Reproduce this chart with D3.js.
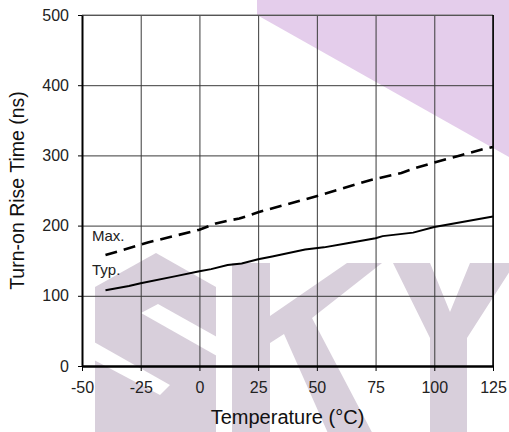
<!DOCTYPE html>
<html>
<head>
<meta charset="utf-8">
<script src="https://cdn.jsdelivr.net/npm/d3@7"></script>
<style>
  body { margin: 0; background: #fff; }
  svg { display: block; font-family: "Liberation Sans", Arial, sans-serif; }
  .grid line { stroke: #3a3a3a; stroke-width: 1; }
  .grid path { display: none; }
  .axis path, .axis line { stroke: #000; }
  .axis text { fill: #222; font-size: 16px; font-family: "Liberation Sans", Arial, sans-serif; }
</style>
</head>
<body>
<div id="chart"></div>
<script>

// data (temperature in degC, rise time in ns)
var maxTemp  = [-40, -22, 0, 7, 12, 17, 25, 51, 73, 86, 92, 100, 111, 121, 125];
var maxRise  = [158, 176, 194, 203, 207, 210, 219, 243, 265, 275, 282, 290, 300, 309, 312];
var typTemp  = [-40, -30, -25, -10, 0, 5, 12, 18, 25, 31, 45, 53, 63, 75, 78, 91, 100, 125];
var typRise  = [108, 114, 118, 128, 135, 138, 144, 146, 152, 156, 166, 169, 175, 182, 185, 190, 198, 213];
var xTicks   = [-50, -25, 0, 25, 50, 75, 100, 125];
var yTicks   = [0, 100, 200, 300, 400, 500];
var seriesLabels = ["Max.", "Typ."];

// margins
var margin = {top: 15, right: 16, bottom: 66, left: 82},
    width = 509 - margin.left - margin.right,
    height = 432 - margin.top - margin.bottom;

var root = d3.select("#chart")
  .append("svg")
    .attr("width", 509)
    .attr("height", 432);

// watermark behind the chart
var wm = root.append("g").attr("class", "watermark");
wm.append("polygon")
    .attr("points", "257,0 509,0 509,157 257,15")
    .attr("fill", "#e4cdeb");
var grey = "#d8cfdb";
// S
wm.append("polygon")
    .attr("points", "95,287 156,253 216,287 216,440 95,440")
    .attr("fill", grey);
wm.append("polygon")
    .attr("points", "158,304 217,337 217,356 141,313")
    .attr("fill", "#fff");
wm.append("polygon")
    .attr("points", "94,342 170,385 160,395 94,360")
    .attr("fill", "#fff");
// K
wm.append("polygon")
    .attr("points", "232,263 270,263 270,316 347,263 382,263 312,318 376,440 331,440 284,334 270,343 270,440 232,440")
    .attr("fill", grey);
// Y
wm.append("polygon")
    .attr("points", "393,263 430,263 450,312 470,263 515,263 467,338 467,440 430,440 430,338")
    .attr("fill", grey);

var svg = root.append("g")
    .attr("transform", "translate(" + margin.left + "," + margin.top + ")");

var x = d3.scaleLinear()
    .domain([-50, 125])
    .range([0, width]);

var y = d3.scaleLinear()
    .domain([0, 500])
    .range([height, 0]);

// plain hyphen for negatives, like the original
var plain = function(d) { return String(d); };

// grid
svg.append("g")
    .attr("class", "grid")
    .call(d3.axisBottom(x).tickValues(xTicks).tickSize(height).tickFormat(""));

svg.append("g")
    .attr("class", "grid")
    .call(d3.axisLeft(y).tickValues(yTicks).tickSize(-width).tickFormat(""));

// frame: top grey, right black
svg.append("line")
    .attr("x1", 0).attr("x2", width).attr("y1", 0).attr("y2", 0)
    .attr("stroke", "#707070").attr("stroke-width", 1.2);
svg.append("line")
    .attr("x1", width).attr("x2", width).attr("y1", 0).attr("y2", height)
    .attr("stroke", "#000").attr("stroke-width", 1.5);

// axes
var xAxis = svg.append("g")
    .attr("class", "axis")
    .attr("transform", "translate(0," + height + ")")
    .call(d3.axisBottom(x).tickValues(xTicks).tickFormat(plain).tickSize(5).tickPadding(11).tickSizeOuter(0));
xAxis.select(".domain").attr("stroke-width", 2.5);

var yAxis = svg.append("g")
    .attr("class", "axis")
    .call(d3.axisLeft(y).tickValues(yTicks).tickFormat(plain).tickSize(4).tickPadding(9).tickSizeOuter(0));
yAxis.select(".domain").attr("stroke-width", 2);

// curves
var line = d3.line()
    .x(function(d) { return x(d[0]); })
    .y(function(d) { return y(d[1]); });

var maxData = maxTemp.map(function(t, i) { return [t, maxRise[i]]; });
var typData = typTemp.map(function(t, i) { return [t, typRise[i]]; });

svg.append("path")
    .datum(maxData)
    .attr("d", line)
    .attr("fill", "none")
    .attr("stroke", "#000")
    .attr("stroke-width", 2.6)
    .attr("stroke-dasharray", "12,7");

svg.append("path")
    .datum(typData)
    .attr("d", line)
    .attr("fill", "none")
    .attr("stroke", "#000")
    .attr("stroke-width", 2);

// series labels
svg.selectAll(".series-label")
    .data(seriesLabels)
  .enter().append("text")
    .attr("class", "series-label")
    .attr("x", 10)
    .attr("y", function(d, i) { return i === 0 ? 226 : 260; })
    .attr("font-size", 15)
    .attr("fill", "#222")
    .text(function(d) { return d; });

// axis titles
root.append("text")
    .attr("x", margin.left + width / 2)
    .attr("y", 424)
    .attr("text-anchor", "middle")
    .attr("font-size", 20)
    .attr("fill", "#111")
    .text("Temperature (\u00B0C)");

root.append("text")
    .attr("transform", "translate(24," + (margin.top + height / 2) + ") rotate(-90)")
    .attr("text-anchor", "middle")
    .attr("font-size", 19.5)
    .attr("fill", "#111")
    .text("Turn-on Rise Time (ns)");

</script>
</body>
</html>
